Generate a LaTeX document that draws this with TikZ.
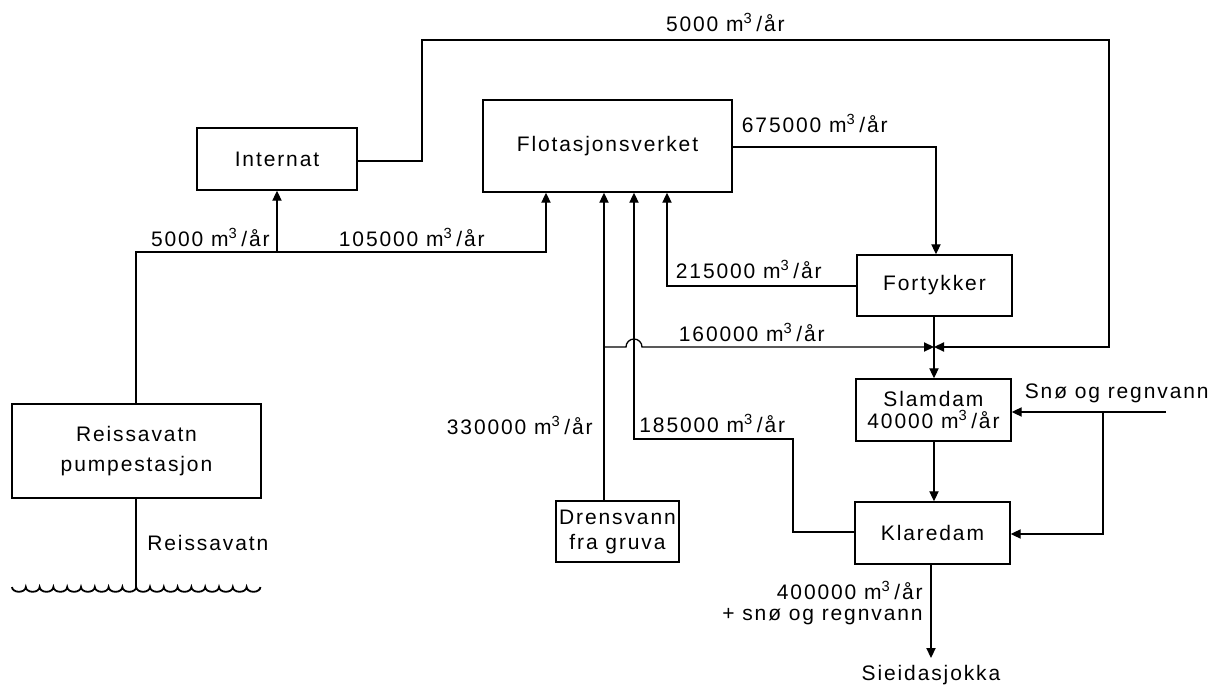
\documentclass[tikz,border=0pt]{standalone}
\usepackage{fontspec}
\setmainfont{Liberation Sans}[LetterSpace=9]
\usetikzlibrary{arrows.meta}
\newcommand{\myunit}{m\textsuperscript{3}\,/år}
\begin{document}
\begin{tikzpicture}[x=0.5pt,y=-0.5pt,
  txt/.style={font=\fontsize{10.5}{13}\selectfont},
  box/.style={draw,line width=0.7pt,inner sep=0pt,align=center,txt},
  lbl/.style={inner sep=0pt,txt},
  flow/.style={line width=0.65pt},
  arr/.style={flow,-{Triangle[length=5pt,width=4.6pt]}}]
\useasboundingbox (0,0) rectangle (1217,690);
% boxes
\node[box,minimum width=80pt,minimum height=31pt] (int) at (277,159) {Internat};
\node[box,minimum width=124.5pt,minimum height=46pt] (flot) at (607.5,146) {Flotasjonsverket};
\node[box,minimum width=77.5pt,minimum height=30.5pt] (fort) at (934.5,285.5) {Fortykker};
\node[box,minimum width=77.5pt,minimum height=31pt,font=\fontsize{10.5}{11}\selectfont] (slam) at (933.5,410) {Slamdam\\40000 \myunit};
\node[box,minimum width=77.5pt,minimum height=31pt] (klar) at (932.5,533) {Klaredam};
\node[box,minimum width=61.5pt,minimum height=30.5pt,font=\fontsize{10.5}{12.5}\selectfont] (dren) at (617.5,531.5) {Drensvann\\fra gruva};
\node[box,minimum width=124.5pt,minimum height=47pt,font=\fontsize{10.5}{15}\selectfont] (reiss) at (136.5,451) {Reissavatn\\pumpestasjon};
% labels
\node[lbl,anchor=east] (l1) at (785,22) {5000 \myunit};
\node[lbl,anchor=east] (l2) at (888,123) {675000 \myunit};
\node[lbl,anchor=east] (l3) at (822,269) {215000 \myunit};
\node[lbl,anchor=east] (l4) at (825,332) {160000 \myunit};
\node[lbl,anchor=east] (l5) at (593,425) {330000 \myunit};
\node[lbl,anchor=west] (l6) at (639,423) {185000 \myunit};
\node[lbl,anchor=east] (l7) at (485,237) {105000 \myunit};
\node[lbl,anchor=east] (l8) at (270,237) {5000 \myunit};
\node[lbl,anchor=east] (l9) at (1209,393) {Snø og regnvann};
\node[lbl,anchor=east] (l10) at (923,590) {400000 \myunit};
\node[lbl,anchor=east] (l11) at (923,617) {+ snø og regnvann};
\node[lbl] (sieid) at (931,675) {Sieidasjokka};
\node[lbl,anchor=west] (l12) at (147,543) {Reissavatn};
% coordinates
\coordinate (j) at (934,347);
\coordinate (t1) at (422,161);
\coordinate (t2) at (1109,40);
\coordinate (c675) at (936,147);
\coordinate (c215) at (667,286);
\coordinate (hs) at (604,347);
\coordinate (c185a) at (793,532);
\coordinate (c185b) at (634,439);
\coordinate (c105) at (546,252);
\coordinate (cint) at (277,252);
\coordinate (snoe) at (1166,412);
\coordinate (snob) at (1103,412);
\coordinate (snoc) at (1103,534);
\coordinate (sout) at (931,658);
\coordinate (wat) at (136,587);
% connectors
\draw[arr] (int.east |- t1) -- (t1) |- (t2) |- (j);
\draw[arr] (flot.east |- c675) -| (fort.north -| c675);
\draw[arr] (fort.west |- c215) -| (c215 |- flot.south);
\draw[flow] (fort.south -| j) -- (j);
\draw[arr] (j) -- (slam.north -| j);
\draw[arr] (dren.north -| hs) -- (hs |- flot.south);
\draw[arr] (hs) -- (626,347) arc[start angle=180,end angle=0,radius=4pt] -- (j);
\draw[arr] (klar.west |- c185a) -- (c185a) |- (c185b) -- (c185b |- flot.south);
\draw[arr] (reiss.north -| wat) |- (c105) -- (c105 |- flot.south);
\draw[arr] (cint) -- (cint |- int.south);
\draw[arr] (snoe) -- (slam.east |- snoe);
\draw[arr] (snob) -- (snoc) -- (klar.east |- snoc);
\draw[arr] (slam.south -| j) -- (klar.north -| j);
\draw[arr] (klar.south -| sout) -- (sout);
\draw[flow] (reiss.south -| wat) -- (wat);
% water surface
\draw[line width=0.9pt] (12,587) \foreach \i in {1,...,18} {arc[start angle=180,end angle=360,x radius=3.45pt,y radius=2.4pt]};
\end{tikzpicture}
\end{document}
